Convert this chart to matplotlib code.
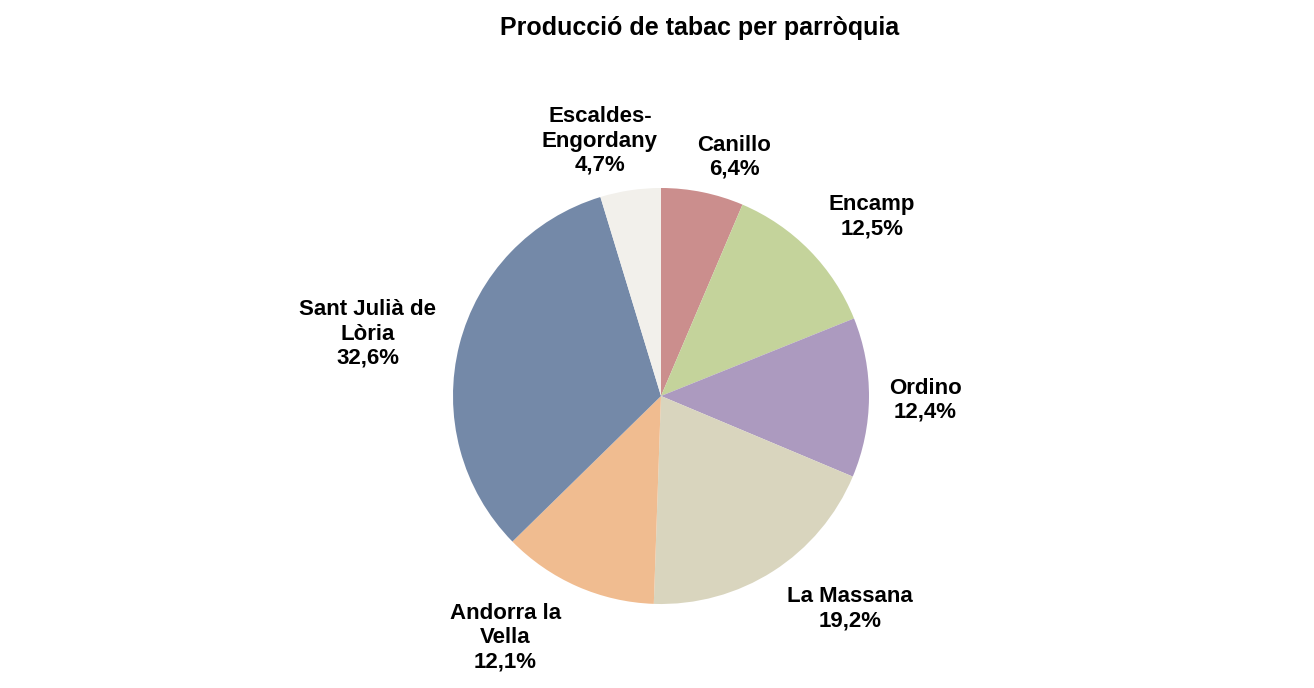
import numpy as np
import matplotlib
matplotlib.use('Agg')
import matplotlib.pyplot as plt

plt.rcParams['font.family'] = ['Liberation Sans', 'DejaVu Sans']

parroquies = ['Canillo', 'Encamp', 'Ordino', 'La Massana',
              'Andorra la\nVella', 'Sant Julià de\nLòria', 'Escaldes-\nEngordany']
percentatges = [6.4, 12.5, 12.4, 19.2, 12.1, 32.6, 4.7]
colors = ['#cb8e8d', '#c4d39b', '#ac9abf', '#d9d5be',
          '#f0bc90', '#7489a8', '#f2f0eb']

# distancia i desplaçament angular de cada etiqueta (estil)
dist_etiq = [1.20, 1.33, 1.27, 1.37, 1.38, 1.44, 1.26]
desv_etiq = [-5.5, -4, -0.5, 9, -9, 2.4, 5]

fig = plt.figure(figsize=(13.14, 6.88), dpi=100)
r_px = 208
lim = 1.6
w = 2 * lim * r_px / 1314
h = 2 * lim * r_px / 688
cx, cy = 661 / 1314, 1 - 396 / 688
ax = fig.add_axes([cx - w / 2, cy - h / 2, w, h])

wedges, _ = ax.pie(percentatges, colors=colors, startangle=90,
                   counterclock=False, radius=1,
                   wedgeprops=dict(linewidth=0))
ax.set_xlim(-lim, lim)
ax.set_ylim(-lim, lim)
ax.set_aspect('equal')
ax.axis('off')

for wdg, nom, val, d, dv in zip(wedges, parroquies, percentatges, dist_etiq, desv_etiq):
    ang = np.deg2rad((wdg.theta1 + wdg.theta2) / 2 + dv)
    txt = nom + '\n' + ('%.1f%%' % val).replace('.', ',')
    ax.text(d * np.cos(ang), d * np.sin(ang), txt, ha='center', va='center',
            fontsize=16, fontweight='bold', linespacing=1.2, clip_on=False)

fig.text(700 / 1314, 1 - 28 / 688, 'Producció de tabac per parròquia',
         ha='center', va='center', fontsize=18, fontweight='bold')

fig.savefig('out.png', dpi=100)
